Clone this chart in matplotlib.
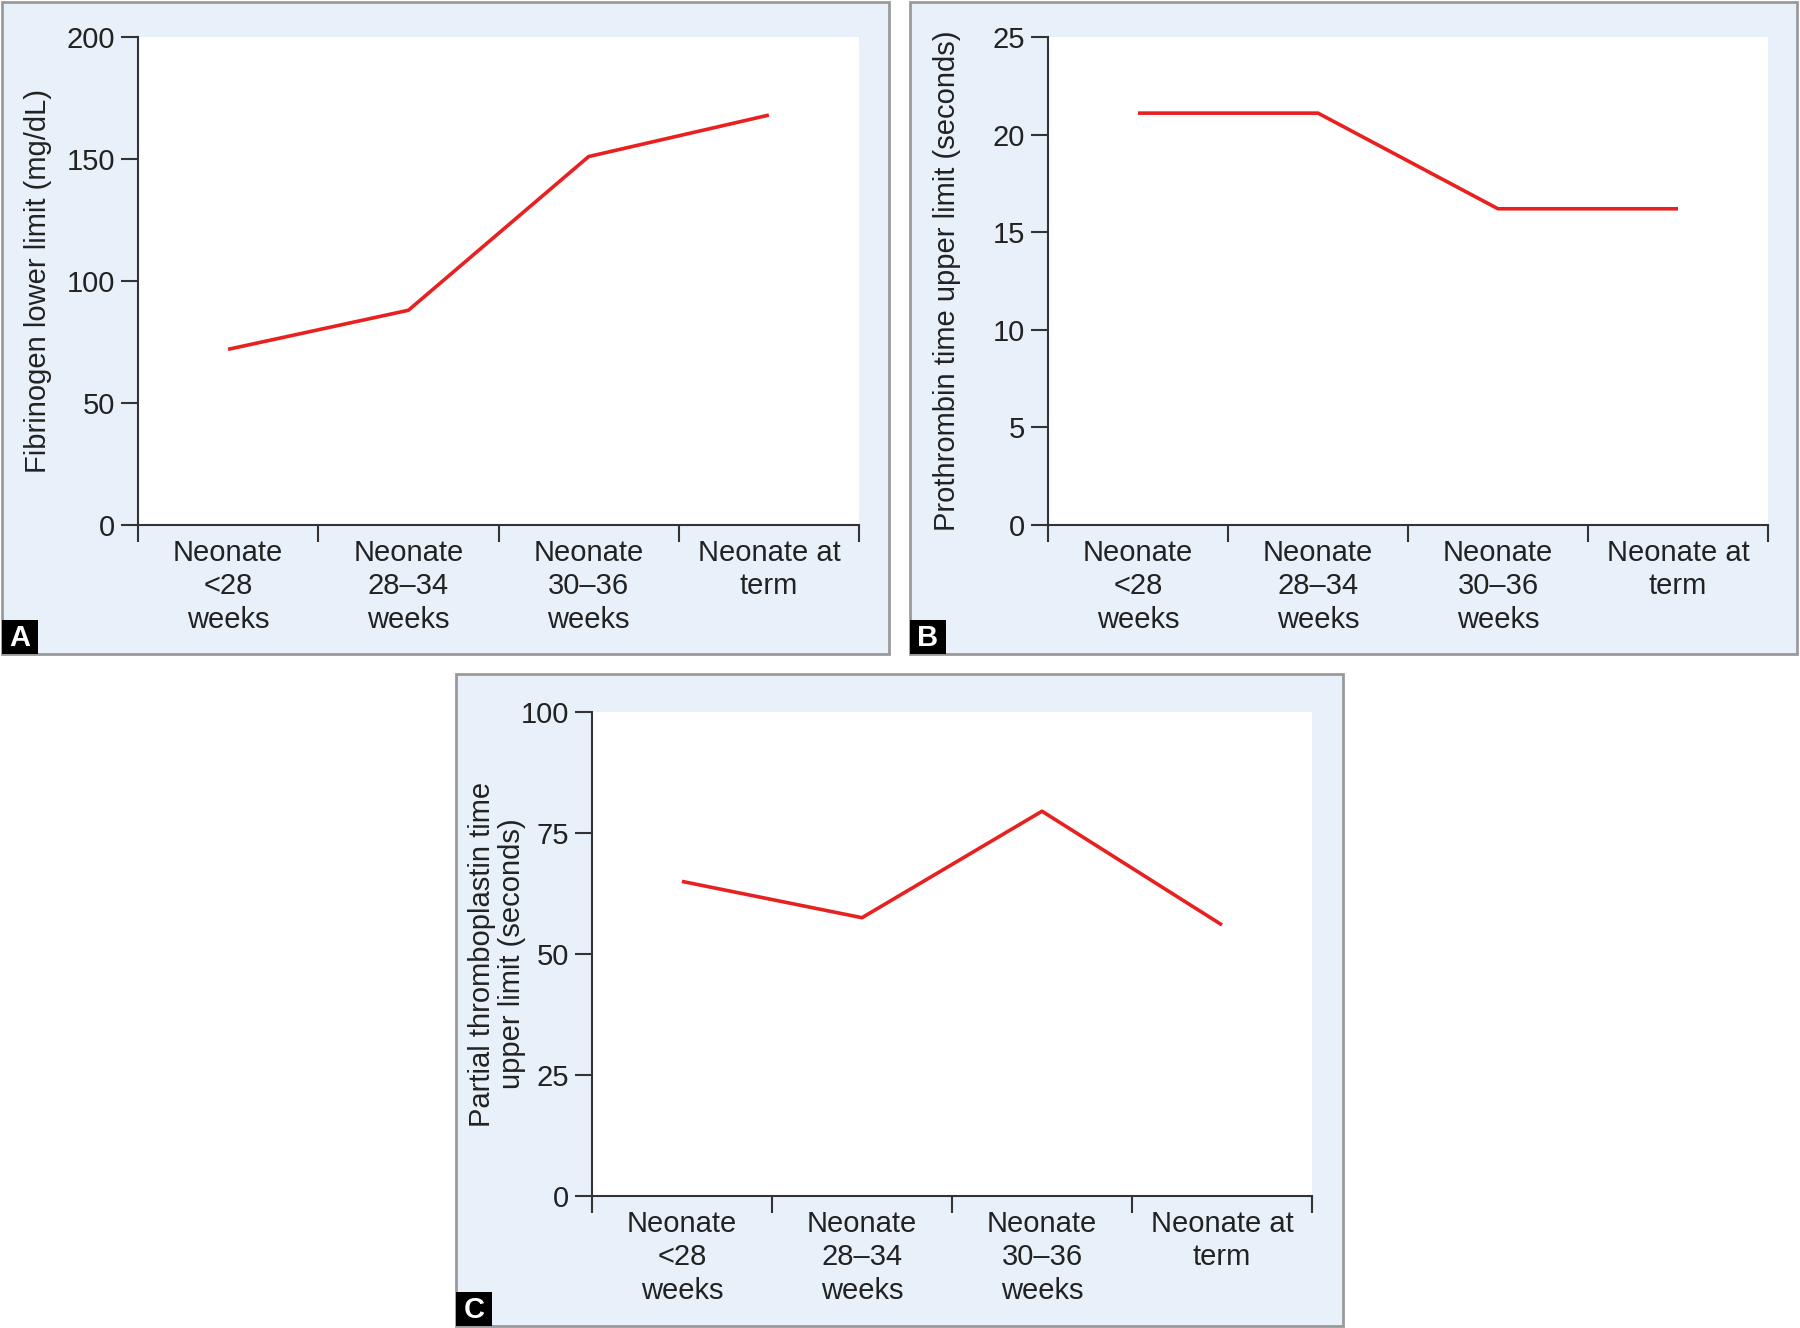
import matplotlib
matplotlib.use("Agg")
import matplotlib.pyplot as plt
from matplotlib.patches import Rectangle

plt.rcParams['font.family'] = ['Liberation Sans', 'DejaVu Sans']

categories = ["Neonate\n<28\nweeks", "Neonate\n28\u201334\nweeks",
              "Neonate\n30\u201336\nweeks", "Neonate at\nterm"]
fibrinogen = [72, 88, 151, 168]
prothrombin = [21.1, 21.1, 16.2, 16.2]
ptt = [65, 57.5, 79.5, 56]

W, H = 1800, 1328
BG = "#e8f0fa"
RED = "#e8201f"
DARK = "#333333"

fig = plt.figure(figsize=(W / 100, H / 100), dpi=100)
fig.patch.set_facecolor("white")


def px_rect(x0, y0, x1, y1):
    # pixel box (top-left origin) -> figure fraction [l, b, w, h]
    return [x0 / W, 1 - y1 / H, (x1 - x0) / W, (y1 - y0) / H]


def panel(box, axbox, vals, ymax, ystep, ylabel, ylab_x, letter):
    l, b, w, h = px_rect(*box)
    fig.patches.append(Rectangle((l, b), w, h, transform=fig.transFigure,
                                 facecolor=BG, edgecolor="#9a9a9a", lw=2, zorder=-10))
    # letter tag
    tl, tb, tw, th = px_rect(box[0], box[3] - 34, box[0] + 36, box[3])
    fig.patches.append(Rectangle((tl, tb), tw, th, transform=fig.transFigure,
                                 facecolor="black", edgecolor="none", zorder=5))
    fig.text(tl + tw / 2, tb + th / 2 - 0.001, letter, color="white", fontsize=21,
             fontweight="bold", ha="center", va="center", zorder=6)

    ax = fig.add_axes(px_rect(*axbox))
    ax.set_facecolor("white")
    x = [i + 0.5 for i in range(len(vals))]
    ax.plot(x, vals, color=RED, lw=2.6, solid_capstyle="butt")
    ax.set_xlim(0, 4)
    ax.set_ylim(0, ymax)
    ax.set_yticks([ystep * i for i in range(int(ymax / ystep) + 1)])
    ax.set_xticks([0, 1, 2, 3, 4])
    ax.set_xticklabels([])
    ax.set_xticks(x, minor=True)
    ax.set_xticklabels(categories, minor=True, linespacing=1.25)
    ax.tick_params(axis="x", which="minor", length=0, pad=10, labelsize=21, colors="#222222")
    ax.tick_params(axis="x", which="major", length=12, width=1.5, direction="out", color=DARK)
    ax.tick_params(axis="y", length=12, width=1.5, direction="out", color=DARK,
                   labelsize=21, pad=4.5, labelcolor="#222222")
    for s in ["top", "right"]:
        ax.spines[s].set_visible(False)
    for s in ["left", "bottom"]:
        ax.spines[s].set_color(DARK)
        ax.spines[s].set_linewidth(1.5)
    cy = 1 - (axbox[1] + axbox[3]) / 2 / H
    fig.text(ylab_x / W, cy, ylabel, rotation=90, ha="center", va="center",
             fontsize=21, color="#222222", multialignment="center", linespacing=1.05)
    return ax


panel((2, 2, 889, 654), (138, 37, 859, 525), fibrinogen, 200, 50,
      "Fibrinogen lower limit (mg/dL)", 38, "A")
panel((910, 2, 1797, 654), (1048, 37, 1768, 525), prothrombin, 25, 5,
      "Prothrombin time upper limit (seconds)", 947, "B")
panel((456, 674, 1343, 1326), (592, 712, 1312, 1196), ptt, 100, 25,
      "Partial thromboplastin time\nupper limit (seconds)", 497, "C")

fig.savefig("out.png", dpi=100)
